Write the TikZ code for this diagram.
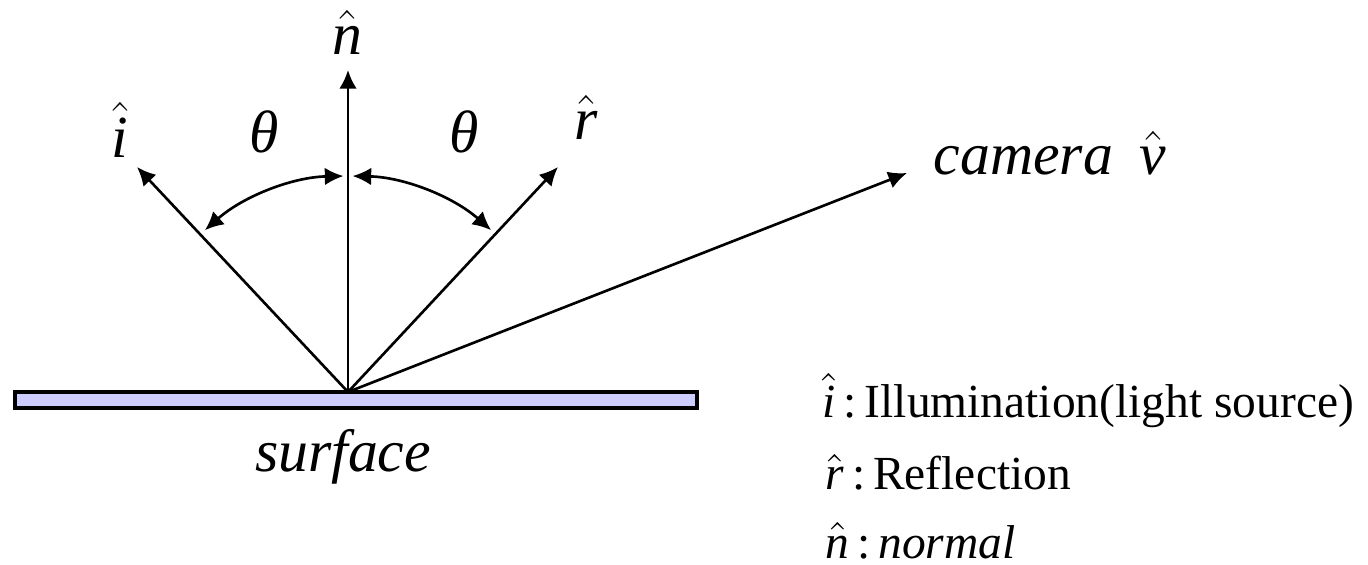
\documentclass[tikz,border=0pt]{standalone}
\usepackage{amsmath}
\usepackage{fontspec}
\setmainfont{Liberation Serif}[ItalicFont={Liberation Serif Italic}]
\usetikzlibrary{arrows.meta,calc}
\definecolor{surfBlue}{RGB}{204,204,255}
\newcommand{\hatv}[1]{$\hat{\textit{#1}}$}

\begin{document}
\begin{tikzpicture}[
  x=0.01cm, y=0.01cm,
  vec/.style={-{Latex[length=5.3pt,width=5pt]}, line width=0.75pt},
  angarr/.style={{Latex[length=5.3pt,width=5pt]}-{Latex[length=5.3pt,width=5pt]}, line width=0.75pt},
  surfbox/.style={draw, line width=0.9pt, fill=surfBlue},
  lbl/.style={font=\fontsize{17}{20}\selectfont, inner sep=0pt, anchor=base},
  legend/.style={font=\fontsize{13.5}{16}\selectfont, inner sep=0pt, anchor=base west}
]
  \useasboundingbox (0,0) rectangle (1368,564);

  % surface
  \draw[surfbox] (15,156) rectangle (697,172);
  \coordinate (O) at (348,172);

  % vector tips
  \coordinate (Ntip) at (348,494);
  \coordinate (Itip) at (137,397);
  \coordinate (Rtip) at (558,397);
  \coordinate (Ctip) at (907,391);

  \foreach \t in {Ntip, Itip, Rtip, Ctip}
    \draw[vec] (O) -- (\t);

  % angle arcs
  \draw[angarr] ($(O)+(131.5:216)$) arc[start angle=131.5, end angle=91.2, radius=216];
  \draw[angarr] ($(O)+(88.8:216)$) arc[start angle=88.8, end angle=48.5, radius=216];

  % labels
  \node[lbl] (nlab) at (347,509) {\hatv{n}};
  \node[lbl] (ilab) at (120,406) {\hatv{i}};
  \node[lbl] (rlab) at (586,424) {\hatv{r}};
  \node[lbl] (thL)  at (264,411) {\textit{θ}};
  \node[lbl] (thR)  at (464,411) {\textit{θ}};
  \node[lbl, anchor=base west] (cam) at (933,389) {\textit{camera}\hspace{0.45em}\hatv{v}};
  \node[lbl] (surf) at (343,92) {\textit{surface}};

  % legend
  \node[legend] (legI) at (822,146) {\hatv{i}\,:\,Illumination(light source)};
  \node[legend] (legR) at (825,74)  {\hatv{r}\,:\,Reflection};
  \node[legend] (legN) at (825,6)   {\hatv{n}\,:\,\textit{normal}};
\end{tikzpicture}
\end{document}
